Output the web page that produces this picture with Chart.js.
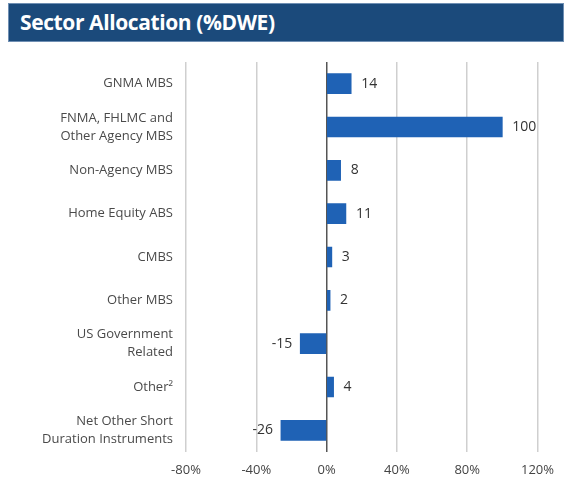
<!DOCTYPE html>
<html>
<head>
<meta charset="utf-8">
<script src="https://cdn.jsdelivr.net/npm/chart.js@4"></script>
<style>
  body { margin: 0; background: #fff; }
  #wrap { position: relative; width: 564px; height: 483px; }
  #title {
    position: absolute; left: 8px; top: 3px; width: 556px; height: 39px;
    background: #1b4a7b; border: 1px solid #6f8fb3; box-sizing: border-box;
    color: #fff; font-family: "Open Sans", sans-serif; font-weight: bold;
    font-size: 21px; line-height: 36px; padding-left: 11px; letter-spacing: -0.4px;
  }
  canvas { position: absolute; left: 0; top: 0; }
</style>
</head>
<body>
<div id="wrap">
  <canvas id="myChart" width="564" height="483"></canvas>
  <div id="title">Sector Allocation (%DWE)</div>
</div>
<script>
var categories = ['GNMA MBS', ['FNMA, FHLMC and', 'Other Agency MBS'], 'Non-Agency MBS', 'Home Equity ABS', 'CMBS', 'Other MBS', ['US Government', 'Related'], 'Other²', ['Net Other Short', 'Duration Instruments']];
var allocation = [14, 100, 8, 11, 3, 2, -15, 4, -26];
var xTicks = [-80, -40, 0, 40, 80, 120];

// value labels next to each bar
var barLabels = {
    id: 'barLabels',
    afterDatasetsDraw: function (chart) {
        var ctx = chart.ctx;
        var meta = chart.getDatasetMeta(0);
        ctx.save();
        ctx.font = '14px "Open Sans", sans-serif';
        ctx.fillStyle = '#333';
        ctx.textBaseline = 'middle';
        meta.data.forEach(function (bar, i) {
            var v = allocation[i];
            if (v >= 0) {
                ctx.textAlign = 'left';
                ctx.fillText(String(v), bar.x + 10, bar.y);
            } else {
                ctx.textAlign = 'right';
                ctx.fillText(String(v), bar.x - 8, bar.y);
            }
        });
        ctx.restore();
    }
};

var ctx = document.getElementById('myChart').getContext('2d');
var myChart = new Chart(ctx, {
    type: 'bar',
    data: {
        labels: categories,
        datasets: [{
            data: allocation,
            backgroundColor: '#1f62b5',
            barThickness: 20
        }]
    },
    options: {
        responsive: false,
        animation: false,
        indexAxis: 'y',
        layout: { padding: { top: 62, right: 26, left: 0, bottom: 0 } },
        plugins: {
            legend: { display: false },
            tooltip: { enabled: false }
        },
        scales: {
            x: {
                min: -80,
                max: 120,
                afterBuildTicks: function (scale) {
                    scale.ticks = xTicks.map(function (v) { return { value: v }; });
                },
                afterFit: function (scale) { scale.height = 31; },
                border: { display: false },
                grid: {
                    drawTicks: false,
                    lineWidth: 1.5,
                    color: function (c) { return c.tick && c.tick.value === 0 ? '#555' : '#cfcfcf'; }
                },
                ticks: {
                    padding: 10,
                    color: '#444',
                    font: { family: 'Open Sans', size: 13 },
                    callback: function (v) { return v + '%'; }
                }
            },
            y: {
                afterFit: function (scale) { scale.width = 186; },
                border: { display: false },
                grid: { display: false, drawTicks: false },
                ticks: {
                    padding: 13,
                    color: '#4a4a4a',
                    font: { family: 'Open Sans', size: 13, lineHeight: 1.4 }
                }
            }
        }
    },
    plugins: [barLabels]
});
</script>
</body>
</html>
